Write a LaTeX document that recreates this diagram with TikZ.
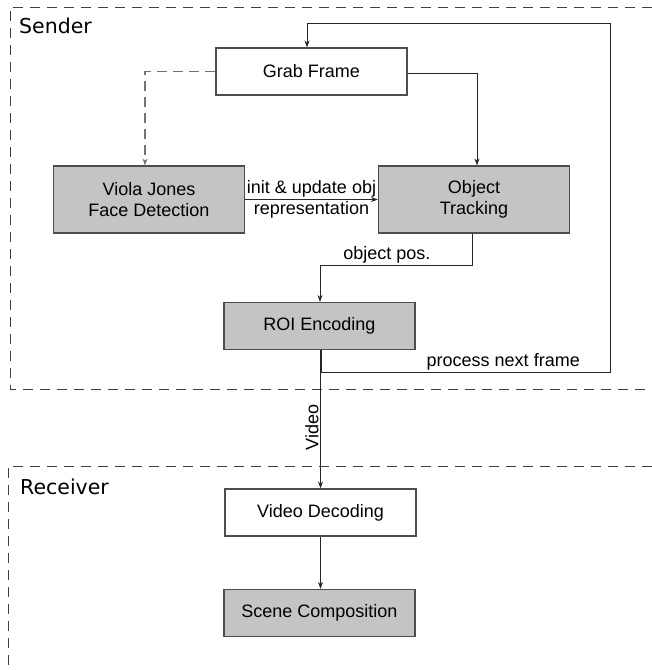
\documentclass[tikz,border=0pt]{standalone}
\usepackage{fontspec}
\setmainfont{Liberation Sans}
\newfontfamily\grpfont{DejaVu Sans}
\usetikzlibrary{arrows.meta}
\definecolor{boxgray}{HTML}{C4C4C4}
\definecolor{linegray}{HTML}{4D4D4D}

\begin{document}
\begin{tikzpicture}[x=1pt, y=-1pt,
    box/.style={draw=linegray, line width=1.2pt, minimum width=191pt, minimum height=47pt,
        align=center, inner sep=0pt, font=\fontsize{18}{21.5}\selectfont},
    shaded/.style={box, fill=boxgray},
    tall/.style={minimum height=67pt},
    flow/.style={->, line width=0.8pt, draw=black!85},
    frame/.style={draw=black!75, line width=0.8pt, dash pattern=on 10pt off 7pt},
    lbl/.style={font=\fontsize{18}{21.5}\selectfont, inner sep=1.5pt},
    grp/.style={font=\grpfont\fontsize{20.5}{24}\selectfont, inner sep=0pt, anchor=base west},
    >={Stealth[length=7pt,width=5pt]}]
    \useasboundingbox (0,0) rectangle (652,670);

    % Sender and receiver areas
    \draw[frame] (652,7) -| (10,389) -- (652,389);
    \draw[frame] (652,466) -| (8,670);
    \node[grp] (sender) at (19,33) {Sender};
    \node[grp] (receiver) at (20,494) {Receiver};

    % Blocks
    \node[box] (grab) at (311.5,71.5) {Grab Frame};
    \node[shaded, tall] (viola) at (149,199.5) {Viola Jones\\Face Detection};
    \node[shaded, tall] (track) at (474,199.5) {Object\\Tracking};
    \node[shaded] (roi) at (319.5,326) {ROI Encoding};
    \node[box] (decode) at (320.5,512.5) {Video Decoding};
    \node[shaded] (scene) at (319.5,613) {Scene Composition};

    % Corners of the feedback loop
    \coordinate (turn) at (610,372);
    \coordinate (top) at (610,23);

    % Connectors
    \draw[flow, draw=black!55, line width=1.1pt, dash pattern=on 10pt off 6pt] (grab.west) -| ([xshift=-4pt]viola.north);
    \draw[flow] ([yshift=-2pt]grab.east) -| ([xshift=3pt]track.north);
    \draw[flow] (viola.east) -- (track.west)
        node[lbl, midway, above] {init \& update obj}
        node[lbl, midway, below] {representation};
    \draw[flow] ([xshift=-2pt]track.south) -- ++(0,32) -| ([xshift=0.5pt]roi.north)
        node[lbl, pos=0.28, above] {object pos.};
    \draw[flow] ([xshift=2pt]roi.south) |- (turn)
        node[lbl, pos=0.815, above] {process next frame}
        -- (top) -| ([xshift=-4.5pt]grab.north);
    \draw[flow] ([xshift=1pt]roi.south) -- (decode.north)
        node[lbl, pos=0.56, rotate=90, anchor=south] {Video};
    \draw[flow] (decode.south) -- ([xshift=1pt]scene.north);
\end{tikzpicture}
\end{document}
